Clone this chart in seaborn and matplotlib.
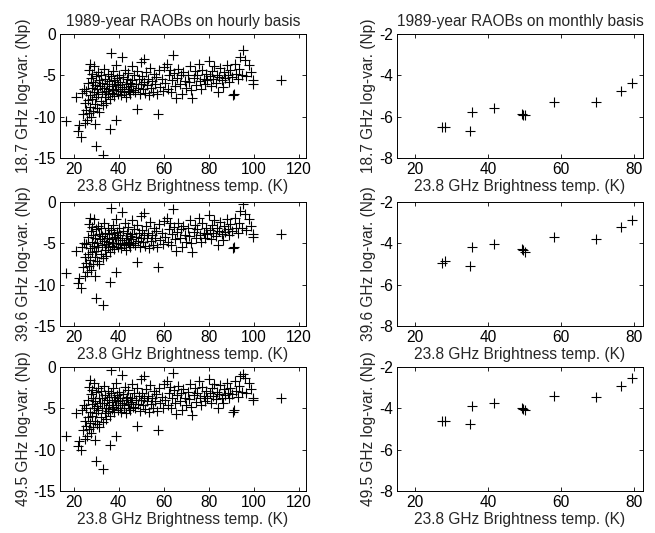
import matplotlib
matplotlib.use("Agg")
import matplotlib.pyplot as plt
import seaborn as sns
import pandas as pd

sns.set_style("ticks")
plt.rcParams["font.family"] = ["Liberation Sans", "DejaVu Sans"]

# ---------------- hourly data (left column) ----------------
x_hourly = [
    16.8, 20.9, 21.9, 22.6, 23.4, 23.6, 24.3, 24.6, 24.9, 25.0,
    25.4, 25.7, 25.9, 26.2, 26.4, 26.7, 26.9, 27.1, 27.2, 27.4, 27.6, 27.8, 28.0, 28.1, 28.3, 28.5, 28.7, 28.9,
    29.1, 29.3, 29.5, 29.7, 29.9, 30.1, 30.1, 30.4, 30.6, 30.8, 31.0, 31.3, 31.5, 31.8, 32.0, 32.3, 32.6, 32.8,
    33.0, 33.1, 33.3, 33.6, 33.8, 34.1, 34.3, 34.6, 34.8, 35.1, 35.3, 35.6, 35.8, 36.0, 36.2, 36.4, 36.6, 36.9,
    37.1, 37.4, 37.6, 37.9, 38.1, 38.4, 38.7, 39.0, 39.0, 39.3, 39.6, 39.9, 40.2, 40.5, 40.8, 41.1, 41.4, 41.6,
    41.9, 42.2, 42.5, 42.8, 43.1, 43.4, 43.7, 44.0, 44.3, 44.6, 44.9, 45.2, 45.5, 45.8, 46.1, 46.4, 46.8, 47.1,
    47.5, 48.1, 48.3, 48.6, 49.0, 49.4, 49.8,
    50.1, 50.4, 50.8, 51.1, 51.4, 51.8, 52.2, 52.6, 53.0, 53.4, 53.8, 54.2, 54.6, 55.0, 55.5, 56.0, 56.5, 57.0,
    57.6, 58.0, 58.5, 59.0, 59.6, 60.2, 60.7, 61.2, 61.8, 62.3, 62.8, 63.3, 63.8, 64.1, 64.5, 65.0, 65.5, 66.0,
    66.5, 67.0, 67.5, 68.0, 68.6, 69.2,
    70.0, 70.5, 71.0, 71.6, 72.1, 72.7, 73.2, 73.8, 74.3, 74.9, 75.4, 76.0, 76.5, 77.1, 77.6, 78.2, 78.7, 79.3,
    79.8, 80.3, 80.8, 81.4, 81.9, 82.4, 83.0, 83.5, 84.1, 84.6, 85.1, 85.7, 86.2, 86.8, 87.3, 87.9, 88.4, 89.0,
    89.5, 90.1, 90.5, 91.0, 91.6, 92.2, 92.8, 93.4, 93.8, 94.5, 95.3, 95.8, 96.5, 97.9, 98.6, 99.4, 99.6, 112.0,
]
y187_hourly = [
    -10.5, -7.6, -11.7, -11.0, -12.4, -7.1, -9.7, -6.6, -10.8, -8.4,
    -9.2, -6.9, -10.4, -8.0, -5.9, -9.6, -4.4, -7.4, -3.6, -8.8, -5.3, -10.1, -6.5, -4.8, -7.9, -9.3, -5.8, -7.0,
    -3.9, -8.5, -6.2, -10.9, -5.1, -13.5, -7.6, -6.7, -8.9, -4.6, -7.2, -5.6, -9.4, -6.3, -8.1, -4.9, -7.0, -5.9,
    -14.6, -8.6, -6.5, -4.2, -7.6, -5.4, -6.9, -8.3, -6.1, -4.8, -7.3, -5.7, -6.6, -11.5, -7.9, -2.35, -5.1, -6.3,
    -7.1, -4.5, -6.8, -5.6, -7.5, -6.0, -3.8, -10.4, -6.7, -5.3, -7.2, -6.2, -4.9, -6.9, -5.8, -7.4, -6.4, -2.8,
    -5.2, -6.7, -7.0, -4.3, -6.1, -7.6, -5.5, -6.6, -4.7, -6.9, -5.9, -7.2, -6.3, -3.9, -5.6, -6.8, -5.0, -7.0,
    -6.0, -9.1, -4.5, -6.5, -5.4, -7.3, -6.1,
    -3.4, -5.1, -6.6, -3.0, -5.8, -7.1, -4.6, -6.2, -5.4, -7.4, -4.1, -6.5, -5.7, -7.0, -4.8, -6.0, -5.2, -7.3,
    -9.7, -4.4, -6.4, -5.5, -6.9, -4.0, -5.9, -3.6, -6.6, -5.0, -4.3, -7.0, -5.6, -2.6, -4.7, -6.3, -7.7, -5.3,
    -4.2, -6.0, -5.0, -7.2, -4.6, -5.7,
    -6.5, -4.9, -5.8, -3.9, -6.8, -7.8, -5.3, -4.5, -6.2, -5.0, -3.6, -5.7, -6.6, -4.3, -5.4, -6.1, -4.8, -5.6,
    -3.3, -5.1, -6.3, -4.5, -5.4, -3.9, -5.9, -4.9, -7.0, -5.2, -4.1, -5.6, -6.4, -4.6, -5.3, -3.8, -5.0, -5.8,
    -4.4, -5.2, -7.4, -7.2, -3.6, -4.8, -5.5, -4.2, -2.8, -4.9, -1.95, -3.2, -5.1, -3.8, -4.6, -6.0, -5.6, -5.6,
]
y396_hourly = [
    -8.6, -5.9, -9.8, -9.2, -10.4, -5.4, -7.9, -4.9, -8.9, -6.7,
    -7.4, -5.1, -8.5, -6.3, -4.2, -7.7, -2.7, -5.6, -1.9, -7.0, -3.5, -8.2, -4.8, -3.0, -6.1, -7.5, -4.0, -5.3,
    -2.1, -6.7, -4.4, -9.0, -3.3, -11.6, -5.9, -4.9, -7.1, -2.9, -5.4, -3.9, -7.5, -4.5, -6.3, -3.2, -5.2, -4.1,
    -12.5, -6.8, -4.7, -2.5, -5.8, -3.7, -5.1, -6.5, -4.3, -3.1, -5.5, -3.9, -4.8, -9.7, -6.1, -0.7, -3.4, -4.5,
    -5.3, -2.8, -5.0, -3.8, -5.7, -4.2, -2.1, -8.5, -4.9, -3.6, -5.4, -4.4, -3.2, -5.1, -4.0, -5.6, -4.6, -1.2,
    -3.5, -4.9, -5.2, -2.6, -4.3, -5.8, -3.8, -4.8, -3.0, -5.1, -4.1, -5.4, -4.5, -2.2, -3.9, -5.0, -3.3, -5.2,
    -4.2, -7.3, -2.8, -4.7, -3.7, -5.5, -4.3,
    -1.7, -3.4, -4.8, -1.3, -4.0, -5.3, -2.9, -4.4, -3.7, -5.6, -2.4, -4.7, -4.0, -5.2, -3.1, -4.3, -3.5, -5.5,
    -7.9, -2.7, -4.6, -3.8, -5.1, -2.3, -4.2, -1.9, -4.8, -3.3, -2.6, -5.2, -3.9, -0.9, -3.0, -4.5, -5.9, -3.6,
    -2.5, -4.3, -3.3, -5.4, -2.9, -4.0,
    -4.8, -3.2, -4.1, -2.2, -5.0, -6.0, -3.6, -2.8, -4.4, -3.3, -1.9, -4.0, -4.8, -2.6, -3.7, -4.3, -3.1, -3.9,
    -1.6, -3.4, -4.5, -2.8, -3.7, -2.2, -4.1, -3.2, -5.2, -3.5, -2.4, -3.9, -4.6, -2.9, -3.6, -2.1, -3.3, -4.0,
    -2.7, -3.5, -5.6, -5.4, -1.9, -3.1, -3.8, -2.5, -1.1, -3.2, -0.2, -1.5, -3.4, -2.1, -2.9, -4.2, -3.9, -3.9,
]
y495_hourly = [
    -8.4, -5.6, -9.6, -9.0, -10.1, -5.2, -7.6, -4.6, -8.7, -6.5,
    -7.1, -4.9, -8.3, -6.0, -4.0, -7.5, -2.4, -5.4, -1.6, -6.8, -3.3, -8.0, -4.5, -2.8, -5.9, -7.3, -3.8, -5.0,
    -1.9, -6.5, -4.1, -8.8, -3.0, -11.4, -5.6, -4.7, -6.9, -2.6, -5.2, -3.7, -7.2, -4.3, -6.1, -2.9, -5.0, -3.8,
    -12.3, -6.6, -4.4, -2.3, -5.6, -3.4, -4.9, -6.3, -4.0, -2.9, -5.3, -3.6, -4.6, -9.4, -5.9, -0.4, -3.2, -4.2,
    -5.1, -2.5, -4.8, -3.6, -5.4, -4.0, -1.9, -8.3, -4.6, -3.4, -5.2, -4.1, -3.0, -4.9, -3.7, -5.4, -4.3, -1.0,
    -3.3, -4.6, -5.0, -2.4, -4.0, -5.6, -3.6, -4.5, -2.8, -4.9, -3.8, -5.2, -4.2, -2.0, -3.7, -4.8, -3.1, -4.9,
    -4.0, -7.1, -2.5, -4.5, -3.5, -5.3, -4.0,
    -1.5, -3.2, -4.6, -1.1, -3.8, -5.1, -2.7, -4.1, -3.5, -5.4, -2.2, -4.5, -3.8, -4.9, -2.9, -4.1, -3.3, -5.3,
    -7.6, -2.5, -4.4, -3.6, -4.9, -2.1, -4.0, -1.7, -4.6, -3.1, -2.4, -5.0, -3.7, -0.7, -2.8, -4.3, -5.7, -3.4,
    -2.3, -4.1, -3.1, -5.2, -2.7, -3.8,
    -4.6, -3.0, -3.9, -2.0, -4.8, -5.8, -3.4, -2.6, -4.2, -3.1, -1.7, -3.8, -4.6, -2.4, -3.5, -4.1, -2.9, -3.7,
    -1.4, -3.2, -4.3, -2.6, -3.5, -2.0, -3.9, -3.0, -5.0, -3.3, -2.2, -3.7, -4.4, -2.7, -3.4, -1.9, -3.1, -3.8,
    -2.5, -3.3, -5.4, -5.2, -1.7, -2.9, -3.6, -2.3, -1.1, -3.0, -0.8, -1.3, -3.2, -1.9, -2.7, -4.0, -3.7, -3.7,
]

# ---------------- monthly data (right column) ----------------
x_monthly = [27.3, 28.3, 35.0, 35.5, 41.5, 49.3, 49.6, 50.0, 58.0, 69.5, 76.5, 79.5]
y187_monthly = [-6.52, -6.48, -6.68, -5.77, -5.57, -5.87, -5.90, -5.93, -5.28, -5.31, -4.75, -4.36]
y396_monthly = [-4.93, -4.87, -5.10, -4.20, -4.03, -4.25, -4.33, -4.40, -3.71, -3.79, -3.23, -2.86]
y495_monthly = [-4.62, -4.60, -4.77, -3.87, -3.73, -3.97, -4.05, -4.10, -3.41, -3.45, -2.91, -2.54]

# text
titles = ["1989-year RAOBs on hourly basis", "1989-year RAOBs on monthly basis"]
ylabels = ["18.7 GHz log-var. (Np)", "39.6 GHz log-var. (Np)", "49.5 GHz log-var. (Np)"]
xlabel = "23.8 GHz Brightness temp. (K)"
hourly_xticks = [20, 40, 60, 80, 100, 120]
hourly_yticks = [0, -5, -10, -15]
monthly_xticks = [20, 40, 60, 80]
monthly_yticks = [-2, -4, -6, -8]

hourly_df = pd.DataFrame({"x": x_hourly, "y1": y187_hourly, "y2": y396_hourly, "y3": y495_hourly})
monthly_df = pd.DataFrame({"x": x_monthly, "y1": y187_monthly, "y2": y396_monthly, "y3": y495_monthly})

fig = plt.figure(figsize=(6.55, 5.33), dpi=100)
W, H = 655.0, 533.0
left_cols = [60, 397]
ax_w = 246
row_tops = [34, 202, 367]
ax_h = 124

FS = 11.2
for r in range(3):
    for c in range(2):
        x0 = left_cols[c] / W
        y0 = 1 - (row_tops[r] + ax_h) / H
        ax = fig.add_axes([x0, y0, ax_w / W, ax_h / H])
        df = hourly_df if c == 0 else monthly_df
        sns.scatterplot(data=df, x="x", y="y%d" % (r + 1), marker="+", color="black",
                        s=52, linewidth=0.8, ax=ax, legend=False)
        if c == 0:
            ax.set_xlim(14, 123)
            ax.set_ylim(-15, 0)
            ax.set_xticks(hourly_xticks)
            ax.set_yticks(hourly_yticks)
        else:
            ax.set_xlim(15, 82.5)
            ax.set_ylim(-8, -2)
            ax.set_xticks(monthly_xticks)
            ax.set_yticks(monthly_yticks)
        ax.set_xticklabels([str(t) for t in ax.get_xticks().astype(int)])
        ax.set_yticklabels([str(t) for t in ax.get_yticks().astype(int)])
        ax.tick_params(direction="in", top=True, right=True, length=3, width=0.6,
                       labelsize=FS, pad=3, colors="black")
        for sp in ax.spines.values():
            sp.set_visible(True)
            sp.set_linewidth(0.7)
            sp.set_color("black")
        ax.set_ylabel(ylabels[r], fontsize=FS, labelpad=2)
        ax.set_xlabel(xlabel, fontsize=FS, labelpad=1)
        if r == 0:
            ax.set_title(titles[c], fontsize=FS, pad=6)

fig.savefig("out.png", dpi=100)
